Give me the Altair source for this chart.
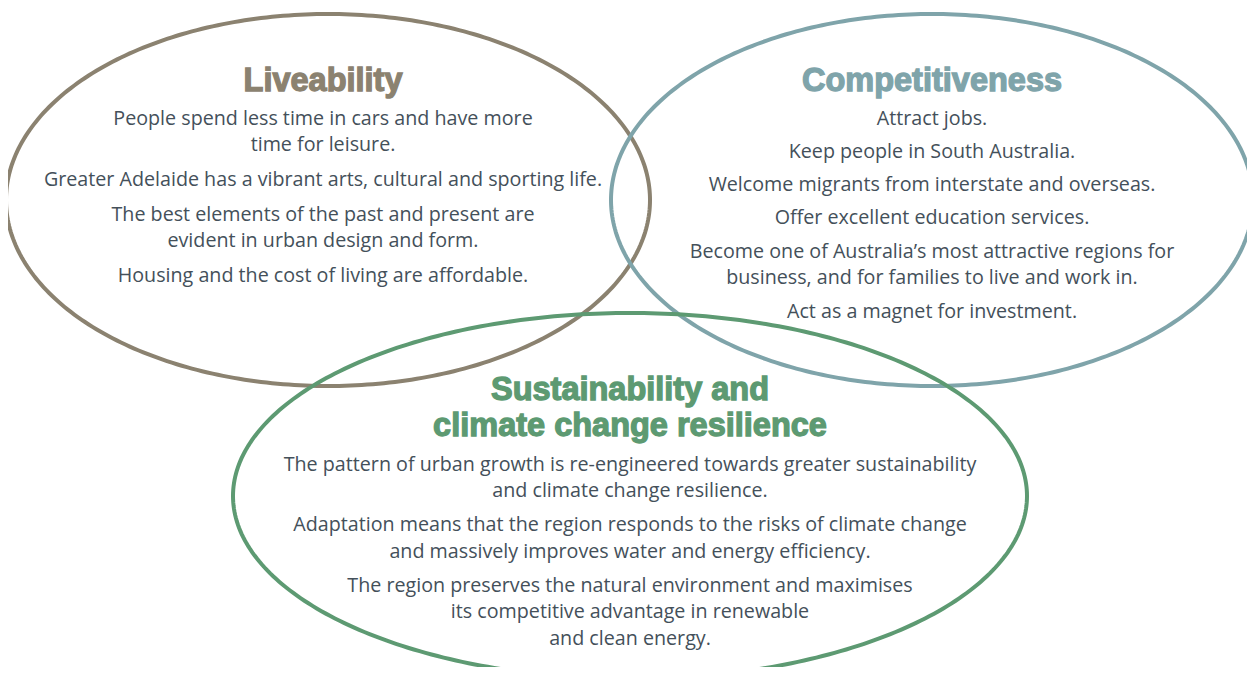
import altair as alt
import numpy as np
import pandas as pd

# ---- data ----
groups = ["Liveability", "Competitiveness", "Sustainability"]
group_colors = ["#8b8270", "#7fa4aa", "#5d9a72"]

# ellipse geometry (reference pixel frame)
ell_cx = [328, 932, 630]
ell_cy = [200, 200, 496]
ell_rx = [322, 321, 397]
ell_ry = [186, 186, 183]

title_lines = ["Liveability", "Competitiveness", "Sustainability and", "climate change resilience"]
title_group = ["Liveability", "Competitiveness", "Sustainability", "Sustainability"]
title_x = [323, 932, 630, 630]
title_y = [80, 80, 389, 425]

body_lines = [
    "People spend less time in cars and have more",
    "time for leisure.",
    "Greater Adelaide has a vibrant arts, cultural and sporting life.",
    "The best elements of the past and present are",
    "evident in urban design and form.",
    "Housing and the cost of living are affordable.",
    "Attract jobs.",
    "Keep people in South Australia.",
    "Welcome migrants from interstate and overseas.",
    "Offer excellent education services.",
    "Become one of Australia\u2019s most attractive regions for",
    "business, and for families to live and work in.",
    "Act as a magnet for investment.",
    "The pattern of urban growth is re-engineered towards greater sustainability",
    "and climate change resilience.",
    "Adaptation means that the region responds to the risks of climate change",
    "and massively improves water and energy efficiency.",
    "The region preserves the natural environment and maximises",
    "its competitive advantage in renewable",
    "and clean energy.",
]
body_x = [323] * 6 + [932] * 7 + [630] * 7
body_y = [118, 144, 179, 214, 240, 275,
          118, 151, 184, 217, 251, 277, 311,
          464, 490, 524, 551, 585, 611, 638]

# ---- build tables ----
rows = []
t = np.linspace(0, 2 * np.pi, 361)
for g, cx, cy, rx, ry in zip(groups, ell_cx, ell_cy, ell_rx, ell_ry):
    for i, a in enumerate(t):
        rows.append({"group": g, "i": i, "x": cx + rx * np.cos(a), "y": cy + ry * np.sin(a)})
ell_df = pd.DataFrame(rows)

title_df = pd.DataFrame({"text": title_lines, "group": title_group, "x": title_x, "y": title_y})
body_df = pd.DataFrame({"text": body_lines, "x": body_x, "y": body_y})

xs = alt.Scale(domain=[8, 1247], nice=False, zero=False)
ys = alt.Scale(domain=[8, 667], nice=False, zero=False, reverse=True)
cs = alt.Scale(domain=groups, range=group_colors)

ellipses = alt.Chart(ell_df).mark_line(strokeWidth=4, clip=True).encode(
    x=alt.X("x:Q", scale=xs, axis=None),
    y=alt.Y("y:Q", scale=ys, axis=None),
    color=alt.Color("group:N", scale=cs, legend=None),
    detail="group:N",
    order="i:Q",
)

titles = alt.Chart(title_df).mark_text(
    font="Liberation Sans", fontSize=32.5, fontWeight="bold",
    strokeWidth=1.3, align="center", baseline="middle", dy=1,
).encode(
    x=alt.X("x:Q", scale=xs, axis=None),
    y=alt.Y("y:Q", scale=ys, axis=None),
    text="text:N",
    color=alt.Color("group:N", scale=cs, legend=None),
    stroke=alt.Stroke("group:N", scale=cs, legend=None),
)

body = alt.Chart(body_df).mark_text(
    font="Open Sans", fontSize=19.7, color="#44505a",
    align="center", baseline="middle", dy=1,
).encode(
    x=alt.X("x:Q", scale=xs, axis=None),
    y=alt.Y("y:Q", scale=ys, axis=None),
    text="text:N",
)

chart = alt.layer(ellipses, titles, body).properties(
    width=1239, height=659, padding=0,
    autosize=alt.AutoSizeParams(type="none"),
).configure(background="white").configure_view(stroke=None, strokeWidth=0)

chart.save("out.html", embed_options={"renderer": "svg", "actions": False})
